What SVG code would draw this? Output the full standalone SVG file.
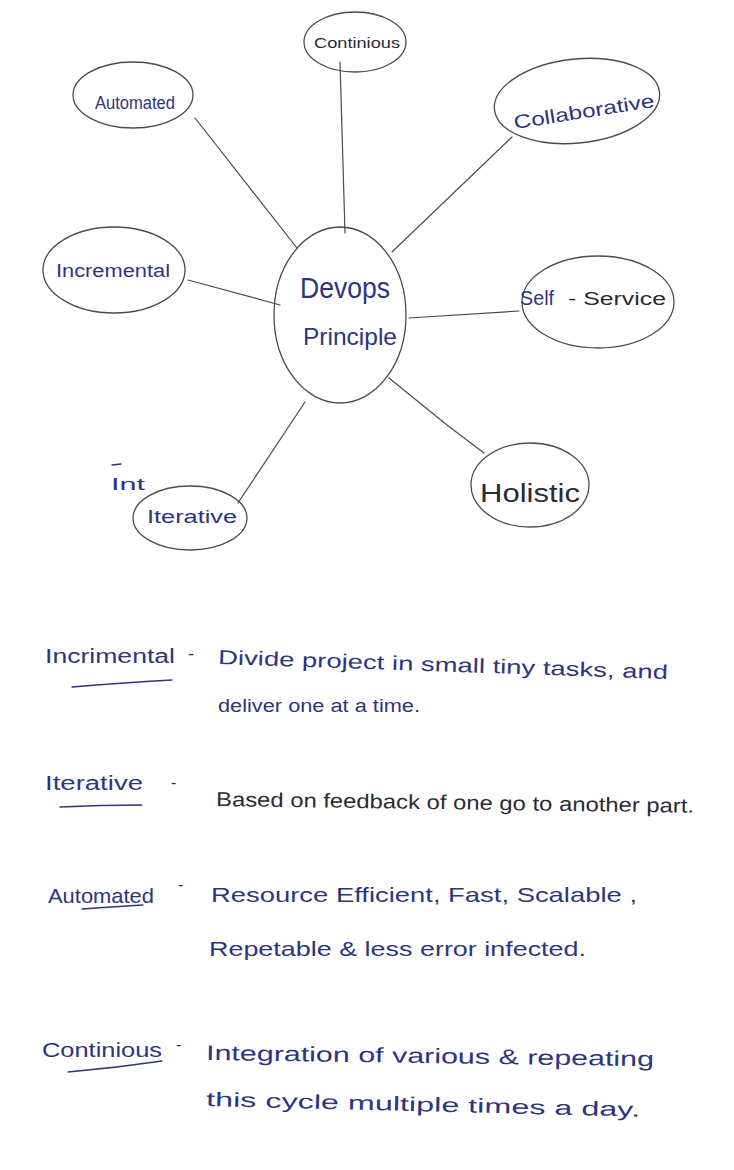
<svg xmlns="http://www.w3.org/2000/svg" width="734" height="1170" viewBox="0 0 734 1170">
  <style>
    .bubble { fill: none; stroke: #4a4a55; stroke-width: 1.3; }
    .link { fill: none; stroke: #4a4a58; stroke-width: 1.2; stroke-linecap: round; }
    .ink { font-family: "Liberation Sans", "DejaVu Sans", sans-serif; fill: #2c3580; }
    .dark { font-family: "Liberation Sans", "DejaVu Sans", sans-serif; fill: #2a2a36; }
    .rule { fill: none; stroke: #2c3580; stroke-width: 1.3; stroke-linecap: round; }
  </style>
  <rect x="0" y="0" width="734" height="1170" fill="#ffffff"/>

  <!-- spokes from the centre bubble -->
  <g id="connectors">
    <path class="link" d="M195,118 L297,248"/>
    <path class="link" d="M340,62 L345,233"/>
    <path class="link" d="M512,137 L392,252"/>
    <path class="link" d="M188,280 L280,305"/>
    <path class="link" d="M409,318 L519,311"/>
    <path class="link" d="M389,378 L447,425 L484,453"/>
    <path class="link" d="M305,402 L238,503"/>
  </g>

  <g id="devops-principle">
    <ellipse class="bubble" cx="340" cy="315" rx="66" ry="88"/>
    <text class="ink" x="345" y="298" font-size="30" text-anchor="middle" textLength="90" lengthAdjust="spacingAndGlyphs">Devops</text>
    <text class="ink" x="350" y="345" font-size="24" text-anchor="middle" textLength="94" lengthAdjust="spacingAndGlyphs">Principle</text>
  </g>

  <g id="continious">
    <ellipse class="bubble" cx="355" cy="42" rx="51" ry="30"/>
    <text class="dark" x="357" y="48" font-size="15" text-anchor="middle" textLength="86" lengthAdjust="spacingAndGlyphs">Continious</text>
  </g>

  <g id="automated">
    <ellipse class="bubble" cx="133" cy="95" rx="60" ry="33"/>
    <text class="ink" x="135" y="109" font-size="18" text-anchor="middle" textLength="80" lengthAdjust="spacingAndGlyphs">Automated</text>
  </g>

  <g id="collaborative">
    <ellipse class="bubble" cx="577" cy="101" rx="83" ry="42" transform="rotate(-6 577 101)"/>
    <text class="ink" x="584" y="118" font-size="19" text-anchor="middle" textLength="142" lengthAdjust="spacingAndGlyphs" transform="rotate(-9 584 112)">Collaborative</text>
  </g>

  <g id="incremental">
    <ellipse class="bubble" cx="114" cy="270" rx="71" ry="43"/>
    <text class="ink" x="113" y="277" font-size="18" text-anchor="middle" textLength="114" lengthAdjust="spacingAndGlyphs">Incremental</text>
  </g>

  <g id="self-service">
    <ellipse class="bubble" cx="598" cy="302" rx="76" ry="46"/>
    <text class="ink" x="520" y="305" font-size="20" textLength="34" lengthAdjust="spacingAndGlyphs">Self</text>
    <text class="dark" x="568" y="305" font-size="18" textLength="98" lengthAdjust="spacingAndGlyphs">- Service</text>
  </g>

  <g id="holistic">
    <ellipse class="bubble" cx="530" cy="485" rx="59" ry="42"/>
    <text class="dark" x="530" y="502" font-size="26" text-anchor="middle" textLength="100" lengthAdjust="spacingAndGlyphs">Holistic</text>
  </g>

  <g id="iterative">
    <ellipse class="bubble" cx="190" cy="518" rx="57" ry="32"/>
    <text class="ink" x="192" y="523" font-size="18" text-anchor="middle" textLength="90" lengthAdjust="spacingAndGlyphs">Iterative</text>
    <!-- crossed-out start written above the bubble -->
    <text class="ink" x="111" y="490" font-size="17" textLength="34" lengthAdjust="spacingAndGlyphs">Int</text>
    <path class="rule" d="M112,465 L121,464"/>
  </g>

  <!-- notes under the map -->
  <g id="notes">
    <text class="ink" x="45" y="663" font-size="20" textLength="130" lengthAdjust="spacingAndGlyphs">Incrimental</text>
    <text class="ink" x="188" y="660" font-size="18">-</text>
    <path class="rule" d="M72,687 Q120,683 172,680"/>
    <text class="ink" x="218" y="664" font-size="20" textLength="450" lengthAdjust="spacingAndGlyphs" transform="rotate(1.9 218 664)">Divide project in small tiny tasks, and</text>
    <text class="ink" x="218" y="712" font-size="18" textLength="202" lengthAdjust="spacingAndGlyphs">deliver one at a time.</text>

    <text class="ink" x="45" y="790" font-size="20" textLength="98" lengthAdjust="spacingAndGlyphs">Iterative</text>
    <text class="dark" x="171" y="788" font-size="16">-</text>
    <path class="rule" d="M60,807 Q100,805 142,805"/>
    <text class="dark" x="216" y="806" font-size="20" textLength="478" lengthAdjust="spacingAndGlyphs" transform="rotate(0.8 216 806)">Based on feedback of one go to another part.</text>

    <text class="ink" x="48" y="903" font-size="21" textLength="106" lengthAdjust="spacingAndGlyphs">Automated</text>
    <text class="dark" x="178" y="890" font-size="16">-</text>
    <path class="rule" d="M82,909 Q110,907 143,905"/>
    <text class="ink" x="211" y="902" font-size="21" textLength="426" lengthAdjust="spacingAndGlyphs">Resource Efficient, Fast, Scalable ,</text>
    <text class="ink" x="209" y="956" font-size="21" textLength="377" lengthAdjust="spacingAndGlyphs">Repetable &amp; less error infected.</text>

    <text class="ink" x="42" y="1057" font-size="21" textLength="120" lengthAdjust="spacingAndGlyphs">Continious</text>
    <text class="dark" x="176" y="1050" font-size="16">-</text>
    <path class="rule" d="M68,1072 Q115,1068 162,1061"/>
    <text class="ink" x="206" y="1060" font-size="21" textLength="448" lengthAdjust="spacingAndGlyphs" transform="rotate(0.8 206 1060)">Integration of various &amp; repeating</text>
    <text class="ink" x="206" y="1106" font-size="20" textLength="434" lengthAdjust="spacingAndGlyphs" transform="rotate(1.4 206 1106)">this cycle multiple times a day.</text>
  </g>
</svg>
